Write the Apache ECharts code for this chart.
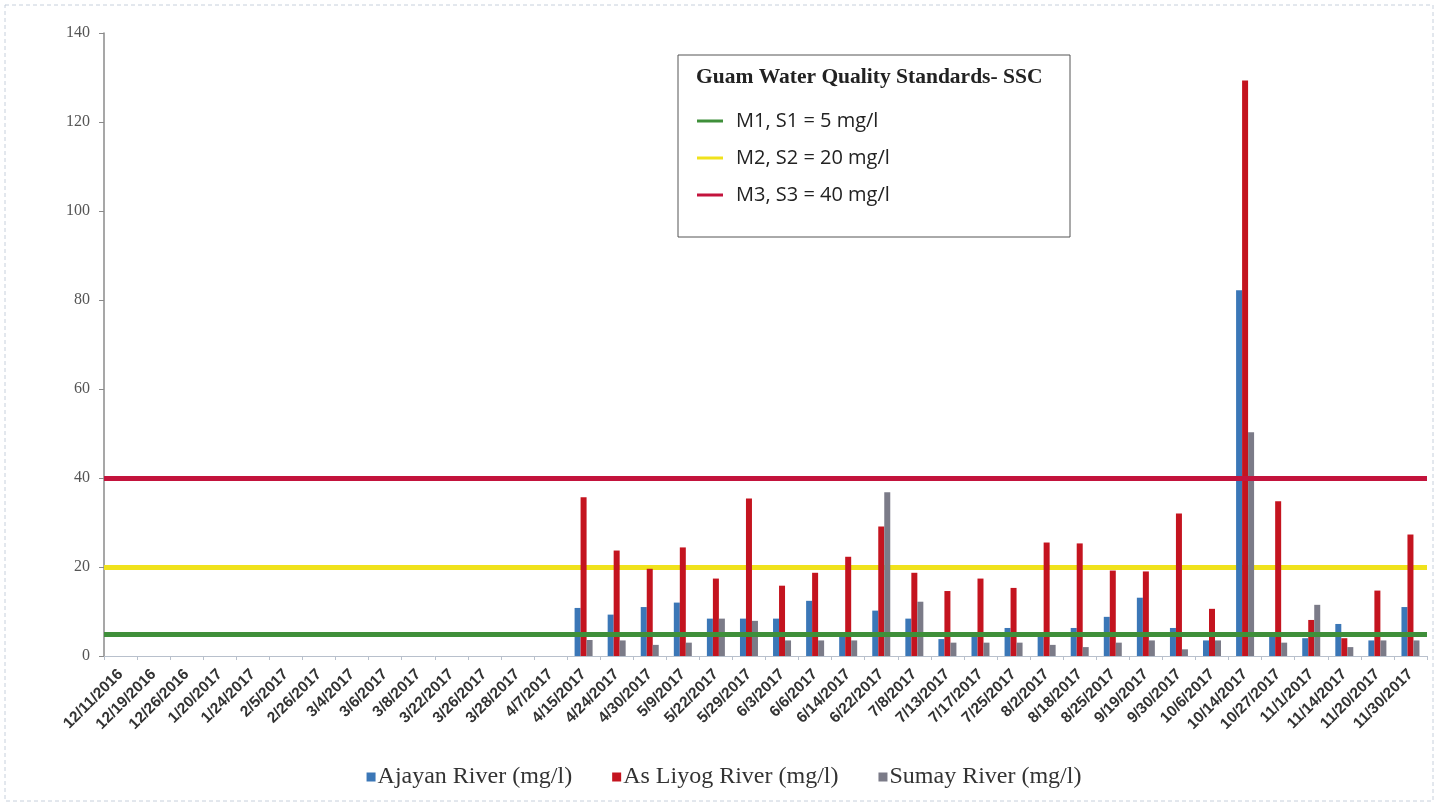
<!DOCTYPE html>
<html>
<head>
<meta charset="utf-8">
<script src="https://cdn.jsdelivr.net/npm/echarts@6/dist/echarts.min.js"></script>
<style>
  html, body { margin: 0; padding: 0; background: #fff; }
  #main { width: 1448px; height: 806px; }
</style>
</head>
<body>
<div id="main"></div>
<script>
var dates = ['12/11/2016', '12/19/2016', '12/26/2016', '1/20/2017', '1/24/2017', '2/5/2017', '2/26/2017',
  '3/4/2017', '3/6/2017', '3/8/2017', '3/22/2017', '3/26/2017', '3/28/2017', '4/7/2017', '4/15/2017',
  '4/24/2017', '4/30/2017', '5/9/2017', '5/22/2017', '5/29/2017', '6/3/2017', '6/6/2017', '6/14/2017',
  '6/22/2017', '7/8/2017', '7/13/2017', '7/17/2017', '7/25/2017', '8/2/2017', '8/18/2017', '8/25/2017',
  '9/19/2017', '9/30/2017', '10/6/2017', '10/14/2017', '10/27/2017', '11/1/2017', '11/14/2017',
  '11/20/2017', '11/30/2017'];

// first 14 dates have no samples
var ajayan = [null, null, null, null, null, null, null, null, null, null, null, null, null, null,
  10.8, 9.3, 11, 12, 8.4, 8.4, 8.4, 12.4, 5.2, 10.2, 8.4, 3.8, 5.2, 6.3, 4.3, 6.3, 8.8,
  13.1, 6.3, 3.5, 82.2, 5.4, 4, 7.2, 3.5, 11];
var asLiyog = [null, null, null, null, null, null, null, null, null, null, null, null, null, null,
  35.7, 23.7, 19.6, 24.4, 17.4, 35.4, 15.8, 18.7, 22.3, 29.1, 18.7, 14.6, 17.4, 15.3, 25.5, 25.3, 19.2,
  19, 32, 10.6, 129.3, 34.8, 8.1, 4, 14.7, 27.3];
var sumay = [null, null, null, null, null, null, null, null, null, null, null, null, null, null,
  3.6, 3.5, 2.5, 3, 8.4, 7.9, 3.5, 3.5, 3.5, 36.8, 12.2, 3, 3, 3, 2.5, 2, 3,
  3.5, 1.5, 3.5, 50.3, 3, 11.5, 2, 3.5, 3.5];

var stdNames = ['M1, S1 = 5 mg/l', 'M2, S2 = 20 mg/l', 'M3, S3 = 40 mg/l'];
var stdValues = [5, 20, 40];
var stdColors = ['#3f8f3a', '#f0e21c', '#c3133c'];
var stdZ = [4, 1, 4];   // green and red over the bars, yellow under them

var myChart = echarts.init(document.getElementById('main'));

var series = [];
for (var i = 0; i < stdNames.length; i++) {
  series.push({
    name: stdNames[i],
    type: 'line',
    data: [],
    z: stdZ[i],
    itemStyle: { color: stdColors[i] },
    lineStyle: { color: stdColors[i], width: 3 },
    markLine: {
      silent: true,
      z: stdZ[i],
      symbol: 'none',
      label: { show: false },
      lineStyle: { color: stdColors[i], width: 5, type: 'solid', opacity: 1 },
      data: [{ yAxis: stdValues[i] }]
    }
  });
}
var barNames = ['Ajayan River (mg/l)', 'As Liyog River (mg/l)', 'Sumay River (mg/l)'];
var barData = [ajayan, asLiyog, sumay];
var barColors = ['#3b77b7', '#c4141f', '#7b7b88'];
for (var j = 0; j < barNames.length; j++) {
  series.push({
    name: barNames[j],
    type: 'bar',
    data: barData[j],
    z: 3,
    barWidth: 6,
    barGap: '0%',
    itemStyle: { color: barColors[j] }
  });
}

var option = {
  backgroundColor: '#fff',
  animation: false,
  grid: { left: 104, right: 21, top: 33, bottom: 150 },
  graphic: [
    {
      type: 'rect',
      shape: { x: 5, y: 5, width: 1428, height: 796 },
      style: { fill: 'none', stroke: '#c7d0dc', lineWidth: 1, lineDash: [4, 3] },
      silent: true
    },
    {
      type: 'rect',
      shape: { x: 678, y: 55, width: 392, height: 182 },
      style: { fill: '#fff', stroke: '#555', lineWidth: 1 },
      z: 10,
      silent: true
    },
    {
      type: 'text',
      left: 696,
      top: 66,
      z: 11,
      style: {
        text: 'Guam Water Quality Standards- SSC',
        font: 'bold 21.5px "Liberation Serif"',
        fill: '#222'
      }
    }
  ],
  legend: [
    {
      data: stdNames,
      orient: 'vertical',
      left: 692,
      top: 106,
      z: 12,
      itemWidth: 26,
      itemHeight: 3,
      itemGap: 17,
      icon: 'rect',
      selectedMode: false,
      textStyle: { fontFamily: 'Open Sans', fontSize: 20, color: '#222', padding: [0, 0, 0, 8] }
    },
    {
      data: barNames,
      orient: 'horizontal',
      left: 'center',
      top: 760,
      itemWidth: 9,
      itemHeight: 9,
      itemGap: 40,
      icon: 'rect',
      selectedMode: false,
      textStyle: { fontFamily: 'Liberation Serif', fontSize: 24, color: '#333', padding: [0, 0, 0, -3] }
    }
  ],
  xAxis: {
    type: 'category',
    data: dates,
    axisLine: { lineStyle: { color: '#b8c0cc' } },
    axisTick: { show: true, length: 4, lineStyle: { color: '#b8c0cc' } },
    axisLabel: {
      rotate: 45,
      interval: 0,
      margin: 16,
      fontFamily: 'Liberation Sans',
      fontWeight: 'bold',
      fontSize: 15.5,
      color: '#333'
    }
  },
  yAxis: {
    type: 'value',
    min: 0,
    max: 140,
    interval: 20,
    axisLine: { show: true, lineStyle: { color: '#8a8a8a', width: 1.5 } },
    axisTick: { show: true, length: 5, lineStyle: { color: '#8a8a8a' } },
    splitLine: { show: false },
    axisLabel: {
      margin: 14,
      fontFamily: 'Liberation Serif',
      fontSize: 16,
      color: '#555'
    }
  },
  series: series
};

myChart.setOption(option);
</script>
</body>
</html>
